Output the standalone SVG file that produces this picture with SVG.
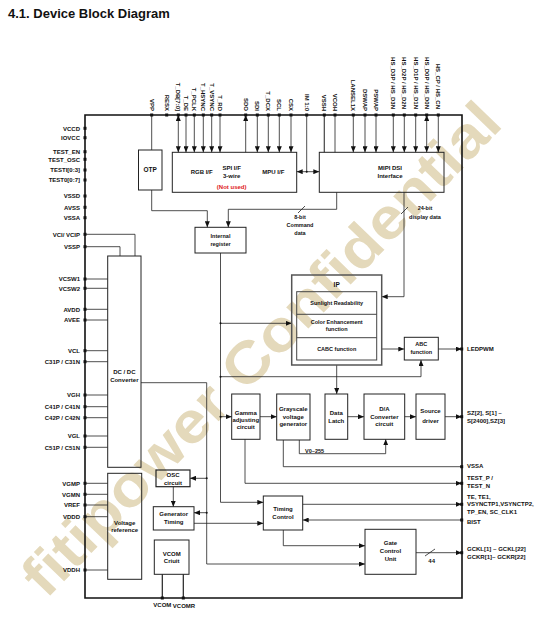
<svg xmlns="http://www.w3.org/2000/svg" width="558" height="618" viewBox="0 0 558 618">
<defs>
<marker id="ar" markerUnits="userSpaceOnUse" markerWidth="6" markerHeight="5" refX="6" refY="2.5" orient="auto-start-reverse"><path d="M0,0 L6,2.5 L0,5 z" fill="#111"/></marker>
<style>
.bd{fill:none;stroke:#111;stroke-width:1.6}
.bx{fill:none;stroke:#222;stroke-width:1}
.w{fill:none;stroke:#222;stroke-width:0.8}
.wa{fill:none;stroke:#222;stroke-width:0.8;marker-end:url(#ar)}
.wb{fill:none;stroke:#222;stroke-width:0.8;marker-end:url(#ar);marker-start:url(#ar)}
.t{font-family:"Liberation Sans",Arial,sans-serif;font-size:6px;font-weight:bold;fill:#111}
.c{text-anchor:middle}
.e{text-anchor:end}
.p{fill:#111}
.wm{font-family:"Liberation Sans",Arial,sans-serif;font-weight:bold;font-size:58px;fill:#e4d9bb}
</style>
</defs>
<rect width="558" height="618" fill="#fff"/>
<text class="wm" transform="translate(46,600) rotate(-46)" textLength="660" lengthAdjust="spacingAndGlyphs">fitipower Confidential</text>
<text x="8" y="18" font-family="Liberation Sans,Arial,sans-serif" font-size="13" font-weight="bold" fill="#111">4.1.  Device Block Diagram</text>

<g id="border"><path class="bd" d="M85,115 H462 V598 H85 Z"/></g>

<g id="connectors">
<path class="wb" d="M178.3,115 V152.3"/>
<path class="wa" d="M186,115 V152.3"/>
<path class="wa" d="M194.3,115 V152.3"/>
<path class="wa" d="M203.3,115 V152.3"/>
<path class="wa" d="M211.7,115 V152.3"/>
<path class="wa" d="M220,115 V152.3"/>
<path class="wa" d="M245.7,152.3 V115"/>
<path class="wa" d="M257.3,115 V152.3"/>
<path class="wa" d="M268.3,115 V152.3"/>
<path class="wa" d="M279.3,115 V152.3"/>
<path class="wa" d="M291,115 V152.3"/>
<path class="w" d="M306.7,115 V171.7"/>
<path class="wb" d="M296.7,171.7 H319.3"/>
<circle class="p" cx="306.7" cy="171.7" r="1"/>
<path class="w" d="M324.3,115 V152.3" style="stroke-width:1.2;stroke:#444"/>
<path class="w" d="M335,115 V152.3"/>
<path class="wa" d="M353.3,115 V152.3"/>
<path class="wa" d="M365,115 V152.3"/>
<path class="wa" d="M376,115 V152.3"/>
<path class="wa" d="M393.3,115 V152.3"/>
<path class="wa" d="M404.3,115 V152.3"/>
<path class="wa" d="M415.7,115 V152.3"/>
<path class="wb" d="M426.7,115 V152.3"/>
<path class="wa" d="M438.3,115 V152.3"/>
<path class="w" d="M151.7,115 V150"/>
<path class="wa" d="M151.7,190 V210.7 H207.3 V227.3"/>
<path class="wa" d="M336.7,192.3 V209.3 H228.3 V227.3"/>
<path class="w" d="M298,213 L305,206"/>
<path class="wa" d="M404,192.3 V296.7 H381.7"/>
<path class="w" d="M401,214 L408,207"/>
<path class="wa" d="M220.5,253 V502.3 H263.3"/>
<path class="wa" d="M220.5,323.3 H291.7"/>
<path class="wa" d="M220.5,376.7 H421 V360"/>
<path class="wa" d="M220.5,416.7 H231.7"/>
<circle class="p" cx="220.5" cy="323.3" r="1"/>
<circle class="p" cx="220.5" cy="376.7" r="1"/>
<circle class="p" cx="220.5" cy="416.7" r="1"/>
<path class="wa" d="M336.7,365 V394"/>
<path class="wa" d="M381.7,349 H404.3"/>
<path class="wa" d="M438.3,349 H461.7"/>
<path class="wa" d="M260,416.7 H276.7"/>
<path class="wa" d="M347.7,416.7 H364"/>
<path class="wa" d="M404.7,416.7 H416"/>
<path class="wa" d="M445,416.7 H461.7"/>
<path class="wa" d="M299.3,440 V453.7 H385.7 V439.3"/>
<path class="w" d="M283.3,440 V466.7 H461.7"/>
<path class="wa" d="M245,439.3 V483.3 H461.7"/>
<path class="wa" d="M302.7,504.3 H461.7"/>
<path class="wa" d="M461.7,520 H302.7"/>
<path class="wa" d="M283.3,530 V545.7 H365"/>
<path class="wa" d="M416,552.7 H461.7"/>
<path class="w" d="M425,556 L435,549"/>
<path class="w" d="M85,234.3 H135 V256"/>
<path class="w" d="M85,246.7 H120 V256"/>
<path class="w" d="M85,279 H107.7 M85,288.3 H107.7 M85,309.3 H107.7 M85,320 H107.7 M85,350.7 H107.7 M85,361.7 H107.7 M85,395 H107.7 M85,406.7 H107.7 M85,417.7 H107.7 M85,436 H107.7 M85,447.3 H107.7"/>
<path class="w" d="M85,483.3 H107.7 M85,494.3 H107.7 M85,505 H107.7 M85,516.7 H107.7 M85,570 H107.7"/>
<path class="wa" d="M141,382.7 H206.7 V564 H365"/>
<path class="wa" d="M206.7,478.3 H190"/>
<path class="wa" d="M206.7,512.7 H194"/>
<circle class="p" cx="206.7" cy="478.3" r="1"/>
<circle class="p" cx="206.7" cy="512.7" r="1"/>
<path class="wa" d="M173.3,486.7 V506.7"/>
<path class="wa" d="M194,523.3 H263.3"/>
<path class="w" d="M162.3,574.3 V598 M183.3,574.3 V598" style="stroke-width:1.2"/>
</g>

<g id="pins">
<rect class="p" x="150.2" y="113.5" width="3" height="3"/>
<rect class="p" x="165.2" y="113.5" width="3" height="3"/>
<rect class="p" x="176.8" y="113.5" width="3" height="3"/>
<rect class="p" x="184.5" y="113.5" width="3" height="3"/>
<rect class="p" x="192.8" y="113.5" width="3" height="3"/>
<rect class="p" x="201.8" y="113.5" width="3" height="3"/>
<rect class="p" x="210.2" y="113.5" width="3" height="3"/>
<rect class="p" x="218.5" y="113.5" width="3" height="3"/>
<rect class="p" x="244.2" y="113.5" width="3" height="3"/>
<rect class="p" x="255.8" y="113.5" width="3" height="3"/>
<rect class="p" x="266.8" y="113.5" width="3" height="3"/>
<rect class="p" x="277.8" y="113.5" width="3" height="3"/>
<rect class="p" x="289.5" y="113.5" width="3" height="3"/>
<rect class="p" x="305.2" y="113.5" width="3" height="3"/>
<rect class="p" x="322.8" y="113.5" width="3" height="3"/>
<rect class="p" x="333.5" y="113.5" width="3" height="3"/>
<rect class="p" x="351.8" y="113.5" width="3" height="3"/>
<rect class="p" x="363.5" y="113.5" width="3" height="3"/>
<rect class="p" x="374.5" y="113.5" width="3" height="3"/>
<rect class="p" x="391.8" y="113.5" width="3" height="3"/>
<rect class="p" x="402.8" y="113.5" width="3" height="3"/>
<rect class="p" x="414.2" y="113.5" width="3" height="3"/>
<rect class="p" x="425.2" y="113.5" width="3" height="3"/>
<rect class="p" x="436.8" y="113.5" width="3" height="3"/>
<g transform="translate(83.5,0)">
<rect class="p" y="126.8" width="3" height="3"/><rect class="p" y="136.2" width="3" height="3"/>
<rect class="p" y="150.2" width="3" height="3"/><rect class="p" y="157.8" width="3" height="3"/>
<rect class="p" y="168.5" width="3" height="3"/><rect class="p" y="178.5" width="3" height="3"/>
<rect class="p" y="194.5" width="3" height="3"/><rect class="p" y="205.8" width="3" height="3"/>
<rect class="p" y="216.2" width="3" height="3"/><rect class="p" y="232.8" width="3" height="3"/>
<rect class="p" y="245.2" width="3" height="3"/><rect class="p" y="277.5" width="3" height="3"/>
<rect class="p" y="286.8" width="3" height="3"/><rect class="p" y="307.8" width="3" height="3"/>
<rect class="p" y="318.5" width="3" height="3"/><rect class="p" y="349.2" width="3" height="3"/>
<rect class="p" y="360.2" width="3" height="3"/><rect class="p" y="393.5" width="3" height="3"/>
<rect class="p" y="405.2" width="3" height="3"/><rect class="p" y="416.2" width="3" height="3"/>
<rect class="p" y="434.5" width="3" height="3"/><rect class="p" y="445.8" width="3" height="3"/>
<rect class="p" y="481.8" width="3" height="3"/><rect class="p" y="492.8" width="3" height="3"/>
<rect class="p" y="503.5" width="3" height="3"/><rect class="p" y="515.2" width="3" height="3"/>
<rect class="p" y="568.5" width="3" height="3"/>
</g>
<g transform="translate(460.2,0)">
<rect class="p" y="347.5" width="3" height="3"/><rect class="p" y="415.2" width="3" height="3"/>
<rect class="p" y="465.2" width="3" height="3"/><rect class="p" y="481.8" width="3" height="3"/>
<rect class="p" y="502.8" width="3" height="3"/><rect class="p" y="518.5" width="3" height="3"/>
<rect class="p" y="551.2" width="3" height="3"/>
</g>
<rect class="p" x="160.8" y="596.5" width="3" height="3"/>
<rect class="p" x="181.8" y="596.5" width="3" height="3"/>
</g>

<g id="top-labels">
<text class="t e" transform="translate(149.5,111) rotate(90)">VPP</text>
<text class="t e" transform="translate(164.5,111) rotate(90)">RESX</text>
<text class="t e" transform="translate(176.1,111) rotate(90)">T_DB[7:0]</text>
<text class="t e" transform="translate(183.8,111) rotate(90)">T_DE</text>
<text class="t e" transform="translate(192.1,111) rotate(90)">T_PCLK</text>
<text class="t e" transform="translate(201.1,111) rotate(90)">T_HSYNC</text>
<text class="t e" transform="translate(209.5,111) rotate(90)">T_VSYNC</text>
<text class="t e" transform="translate(217.8,111) rotate(90)">T_RD</text>
<text class="t e" transform="translate(243.5,111) rotate(90)">SDO</text>
<text class="t e" transform="translate(255.1,111) rotate(90)">SDI</text>
<text class="t e" transform="translate(266.1,111) rotate(90)">T_DCX</text>
<text class="t e" transform="translate(277.1,111) rotate(90)">SCL</text>
<text class="t e" transform="translate(288.8,111) rotate(90)">CSX</text>
<text class="t e" transform="translate(304.5,111) rotate(90)">IM 1:0</text>
<text class="t e" transform="translate(322.1,111) rotate(90)">VSSH</text>
<text class="t e" transform="translate(332.8,111) rotate(90)">VCOH</text>
<text class="t e" transform="translate(351.1,111) rotate(90)">LANSEL1X</text>
<text class="t e" transform="translate(362.8,111) rotate(90)">DSWAP</text>
<text class="t e" transform="translate(373.8,111) rotate(90)">PSWAP</text>
<text class="t e" transform="translate(391.1,109) rotate(90)">HS_D3P / HS_D3N</text>
<text class="t e" transform="translate(402.1,109) rotate(90)">HS_D2P / HS_D2N</text>
<text class="t e" transform="translate(413.5,109) rotate(90)">HS_D1P / HS_D1N</text>
<text class="t e" transform="translate(424.5,109) rotate(90)">HS_D0P / HS_D0N</text>
<text class="t e" transform="translate(436.1,109) rotate(90)">HS_CP / HS_CN</text>
</g>

<g id="left-labels">
<text class="t e" x="80" y="130.5">VCCD</text>
<text class="t e" x="80" y="139.9">IOVCC</text>
<text class="t e" x="80" y="153.9">TEST_EN</text>
<text class="t e" x="80" y="161.5">TEST_OSC</text>
<text class="t e" x="80" y="172.2">TESTI[0:3]</text>
<text class="t e" x="80" y="182.2">TEST0[0:7]</text>
<text class="t e" x="80" y="198.2">VSSD</text>
<text class="t e" x="80" y="209.5">AVSS</text>
<text class="t e" x="80" y="219.9">VSSA</text>
<text class="t e" x="80" y="236.5">VCI/ VCIP</text>
<text class="t e" x="80" y="248.9">VSSP</text>
<text class="t e" x="80" y="281.2">VCSW1</text>
<text class="t e" x="80" y="290.5">VCSW2</text>
<text class="t e" x="80" y="311.5">AVDD</text>
<text class="t e" x="80" y="322.2">AVEE</text>
<text class="t e" x="80" y="352.9">VCL</text>
<text class="t e" x="80" y="363.9">C31P / C31N</text>
<text class="t e" x="80" y="397.2">VGH</text>
<text class="t e" x="80" y="408.9">C41P / C41N</text>
<text class="t e" x="80" y="419.9">C42P / C42N</text>
<text class="t e" x="80" y="438.2">VGL</text>
<text class="t e" x="80" y="449.5">C51P / C51N</text>
<text class="t e" x="80" y="485.5">VGMP</text>
<text class="t e" x="80" y="496.5">VGMN</text>
<text class="t e" x="80" y="507.2">VREF</text>
<text class="t e" x="80" y="518.9">VDDD</text>
<text class="t e" x="80" y="572.2">VDDH</text>
<text class="t c" x="162.3" y="606.5">VCOM</text>
<text class="t c" x="184" y="608">VCOMR</text>
</g>

<g id="right-labels">
<text class="t" x="467" y="351.2">LEDPWM</text>
<text class="t" x="467" y="414.5">SZ[2], S[1] ~</text>
<text class="t" x="467" y="423">S[2400],SZ[3]</text>
<text class="t" x="467" y="468.2">VSSA</text>
<text class="t" x="467" y="479.9">TEST_P /</text>
<text class="t" x="467" y="488.2">TEST_N</text>
<text class="t" x="467" y="498.9">TE, TE1,</text>
<text class="t" x="467" y="506.2">VSYNCTP1,VSYNCTP2,</text>
<text class="t" x="467" y="513.9">TP_EN, SC_CLK1</text>
<text class="t" x="467" y="523.9">BIST</text>
<text class="t" x="467" y="551.2">GCKL[1] ~ GCKL[22]</text>
<text class="t" x="467" y="558.9">GCKR[1]~ GCKR[22]</text>
</g>

<g id="otp"><rect class="bx" x="138.5" y="150" width="23.5" height="40"/><text class="t c" x="150.2" y="172.3" style="font-size:6.5px">OTP</text></g>
<g id="rgb-if"><rect class="bx" x="172.3" y="152.3" width="124.4" height="40"/>
<text class="t c" x="201.7" y="174.3">RGB I/F</text>
<text class="t c" x="231.7" y="170.3">SPI I/F</text>
<text class="t c" x="231.7" y="177.7">3-wire</text>
<text class="t c" x="231.7" y="188.7" style="fill:#e02020">(Not used)</text>
<text class="t c" x="273.3" y="174.3">MPU I/F</text></g>
<g id="mipi"><rect class="bx" x="319.3" y="152.3" width="124.7" height="40"/>
<text class="t c" x="390" y="170.3">MIPI DSI</text>
<text class="t c" x="390" y="177.7">Interface</text></g>
<g id="cmd-label"><text class="t c" x="300" y="219.3" style="font-size:5.5px">8-bit</text><text class="t c" x="300" y="226.7" style="font-size:5.5px">Command</text><text class="t c" x="300" y="234.7" style="font-size:5.5px">data</text></g>
<g id="disp-label"><text class="t c" x="425" y="210" style="font-size:5.5px">24-bit</text><text class="t c" x="425" y="218.7" style="font-size:5.5px">display data</text></g>
<g id="internal-register"><rect class="bx" x="195" y="227.3" width="51" height="25.7"/>
<text class="t c" x="220.5" y="238.3" style="font-size:5.5px">Internal</text>
<text class="t c" x="220.5" y="246.3" style="font-size:5.5px">register</text></g>
<g id="ip"><rect x="291.7" y="275" width="90" height="90" fill="none" stroke="#555" stroke-width="1.5"/>
<text class="t c" x="336.7" y="286.5" style="font-size:6.5px">IP</text>
<rect class="bx" x="296.7" y="291.7" width="80" height="68.3" style="stroke:#444"/>
<path class="bx" d="M296.7,314.3 H376.7 M296.7,337.7 H376.7" style="stroke:#444"/>
<text class="t c" x="336.7" y="304.7" style="font-size:5.5px">Sunlight Readability</text>
<text class="t c" x="336.7" y="323.7" style="font-size:5.5px">Color Enhancement</text>
<text class="t c" x="336.7" y="331.3" style="font-size:5.5px">function</text>
<text class="t c" x="336.7" y="351" style="font-size:5.5px">CABC function</text></g>
<g id="abc"><rect class="bx" x="404.3" y="337.3" width="34" height="22.7"/>
<text class="t c" x="421.3" y="346" style="font-size:5.5px">ABC</text>
<text class="t c" x="421.3" y="354" style="font-size:5.5px">function</text></g>
<g id="dcdc"><rect class="bx" x="107.7" y="256" width="33.3" height="211.3"/>
<text class="t c" x="124.3" y="373.5">DC / DC</text>
<text class="t c" x="124.3" y="381.5">Converter</text></g>
<g id="gamma"><rect class="bx" x="231.7" y="394" width="28.3" height="45.3"/>
<text class="t c" x="245.8" y="415">Gamma</text><text class="t c" x="245.8" y="422">adjusting</text><text class="t c" x="245.8" y="429">circuit</text></g>
<g id="grayscale"><rect class="bx" x="276.7" y="394" width="33.3" height="46"/>
<text class="t c" x="293.3" y="411">Grayscale</text><text class="t c" x="293.3" y="418.5">voltage</text><text class="t c" x="293.3" y="426">generator</text></g>
<text class="t" x="305" y="452.5" style="font-size:5.5px">V0~255</text>
<g id="data-latch"><rect class="bx" x="325" y="394" width="22.7" height="45.3"/>
<text class="t c" x="336.3" y="414.5">Data</text><text class="t c" x="336.3" y="422.5">Latch</text></g>
<g id="da"><rect class="bx" x="364" y="394" width="40.7" height="45.3"/>
<text class="t c" x="384.3" y="411">D/A</text><text class="t c" x="384.3" y="418.5">Converter</text><text class="t c" x="384.3" y="426">circuit</text></g>
<g id="source"><rect class="bx" x="416" y="394" width="29" height="45.3"/>
<text class="t c" x="430.5" y="412.5">Source</text><text class="t c" x="430.5" y="423">driver</text></g>
<g id="vref"><rect class="bx" x="107.7" y="473.3" width="34" height="106"/>
<text class="t c" x="124.7" y="525">Voltage</text><text class="t c" x="124.7" y="532">reference</text></g>
<g id="osc"><rect class="bx" x="156" y="470" width="34" height="16.7" style="stroke-width:1.2"/>
<text class="t c" x="173" y="477">OSC</text><text class="t c" x="173" y="484.5">circuit</text></g>
<g id="gen"><rect class="bx" x="153.3" y="506.7" width="40.7" height="23.3"/>
<text class="t c" x="173.7" y="516">Generator</text><text class="t c" x="173.7" y="524">Timing</text></g>
<g id="vcom"><rect class="bx" x="154.3" y="540" width="34.7" height="34.3"/>
<text class="t c" x="171.7" y="555.5">VCOM</text><text class="t c" x="171.7" y="562.5">Criuit</text></g>
<g id="timing"><rect class="bx" x="263.3" y="496" width="39.4" height="34"/>
<text class="t c" x="283" y="511">Timing</text><text class="t c" x="283" y="518.5">Control</text></g>
<g id="gate"><rect class="bx" x="365" y="529.3" width="51" height="45"/>
<text class="t c" x="390.5" y="545">Gate</text><text class="t c" x="390.5" y="553">Control</text><text class="t c" x="390.5" y="561">Unit</text>
<text class="t c" x="431.7" y="562.5">44</text></g>
</svg>
